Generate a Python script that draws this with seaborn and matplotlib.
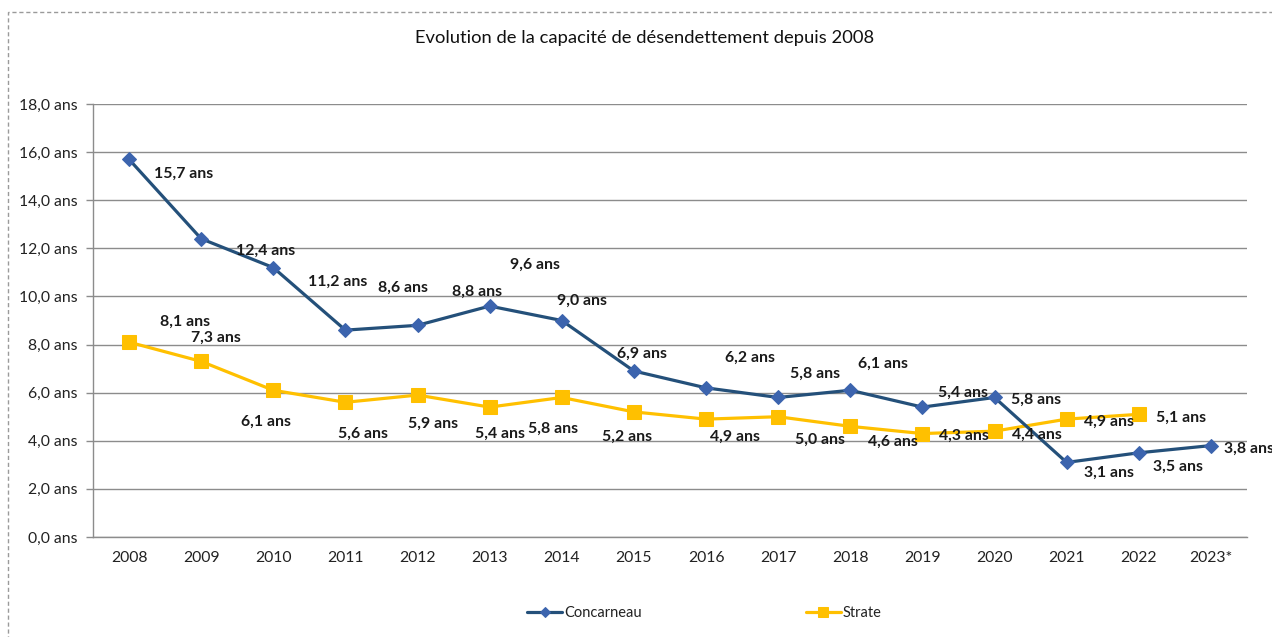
import pandas as pd
import numpy as np
import matplotlib
matplotlib.use("Agg")
import matplotlib.pyplot as plt
import matplotlib.patches as mpatches
from matplotlib.ticker import FixedLocator
import seaborn as sns

# ---------------------------------------------------------------------------
# Data
# ---------------------------------------------------------------------------
YEARS = ["2008", "2009", "2010", "2011", "2012", "2013", "2014", "2015",
         "2016", "2017", "2018", "2019", "2020", "2021", "2022", "2023*"]
CONCARNEAU = [15.7, 12.4, 11.2, 8.6, 8.8, 9.6, 9.0, 6.9,
              6.2, 5.8, 6.1, 5.4, 5.8, 3.1, 3.5, 3.8]
STRATE = [8.1, 7.3, 6.1, 5.6, 5.9, 5.4, 5.8, 5.2,
          4.9, 5.0, 4.6, 4.3, 4.4, 4.9, 5.1, np.nan]
Y_TICKS = [0, 2, 4, 6, 8, 10, 12, 14, 16, 18]

# label offsets in screen pixels (dx, dy downward), as placed in the original
CONC_OFFSETS = [(55, 14), (64, 12), (64, 14), (58, -42), (60, -34), (45, -41),
                (20, -20), (8, -17), (44, -30), (37, -24), (33, -26), (41, -14),
                (42, 2), (42, 10), (39, 14), (38, 3)]
STRATE_OFFSETS = [(56, -20), (15, -24), (-7, 32), (18, 32), (16, 29), (10, 27),
                  (-9, 31), (-7, 25), (29, 18), (42, 23), (43, 15), (42, 2),
                  (42, 4), (42, 3), (42, 3), (0, 0)]

df = pd.DataFrame({"annee": YEARS, "Concarneau": CONCARNEAU, "Strate": STRATE})
df["pos"] = np.arange(len(YEARS))

NAVY = "#24507A"
BLUE_MK = "#3C64AE"
YELLOW = "#FFC000"
GRID = "#8C8C8C"


def fr(v):
    return f"{v:.1f}".replace(".", ",") + " ans"


# ---------------------------------------------------------------------------
# Plot
# ---------------------------------------------------------------------------
sns.set_theme(style="white")
plt.rcParams["font.family"] = ["Lato", "DejaVu Sans"]

fig = plt.figure(figsize=(12.72, 6.37), dpi=100)
ax = fig.add_axes([0.0731, 0.157, 0.9072, 0.6797])

sns.lineplot(data=df, x="pos", y="Concarneau", ax=ax, color=NAVY, lw=2.3,
             marker="D", markersize=7, markerfacecolor=BLUE_MK,
             markeredgecolor=BLUE_MK, label="Concarneau", zorder=4)
sns.lineplot(data=df.dropna(), x="pos", y="Strate", ax=ax, color=YELLOW, lw=2.3,
             marker="s", markersize=10, markerfacecolor=YELLOW,
             markeredgecolor=YELLOW, label="Strate", zorder=3)

# data labels
for series, offs in ((CONCARNEAU, CONC_OFFSETS), (STRATE, STRATE_OFFSETS)):
    for i, v in enumerate(series):
        if np.isnan(v):
            continue
        dx, dy = offs[i]
        ax.annotate(fr(v), (i, v), xytext=(dx, -dy), textcoords="offset pixels",
                    ha="center", va="center", fontsize=11.4, fontweight="bold",
                    color="#1A1A1A", zorder=6, annotation_clip=False)

ax.set_xlim(-0.5, len(YEARS) - 0.5)
ax.set_ylim(0, 18)
ax.set_xticks(df["pos"])
ax.set_xticklabels(YEARS, fontsize=11.3, color="#222222")
ax.xaxis.set_minor_locator(FixedLocator(np.arange(-0.5, len(YEARS), 1)))
ax.tick_params(axis="x", which="major", length=0, pad=10)
ax.tick_params(axis="x", which="minor", length=5, width=1, color=GRID, direction="out")
ax.set_yticks(Y_TICKS)
ax.set_yticklabels([fr(t) for t in Y_TICKS], fontsize=11.3, color="#222222")
ax.tick_params(axis="y", length=5, width=1, color=GRID, direction="out", left=True, pad=6)
ax.yaxis.grid(True, color=GRID, lw=1)
ax.set_axisbelow(True)
ax.set_xlabel("")
ax.set_ylabel("")
for s in ("top", "right"):
    ax.spines[s].set_visible(False)
for s in ("left", "bottom"):
    ax.spines[s].set_color(GRID)
    ax.spines[s].set_linewidth(1)

fig.text(0.507, 0.94, "Evolution de la capacité de désendettement depuis 2008",
         ha="center", va="center", fontsize=13.2, color="#111111")

leg = ax.legend(loc="center", bbox_to_anchor=(0.530, -0.176), ncol=2, frameon=False,
                fontsize=10.5, handlelength=2.4, handletextpad=0.15, columnspacing=11.2,
                markerscale=0.75)
for t in leg.get_texts():
    t.set_color("#222222")

# dashed outer border
fig.patches.append(mpatches.Rectangle((8 / 1272, -0.05), 1.2, 1 - 12 / 637 + 0.05,
                                      transform=fig.transFigure, fill=False,
                                      ec="#9A9A9A", lw=1, ls=(0, (3, 2)),
                                      clip_on=False))

fig.savefig("out.png", dpi=100)
